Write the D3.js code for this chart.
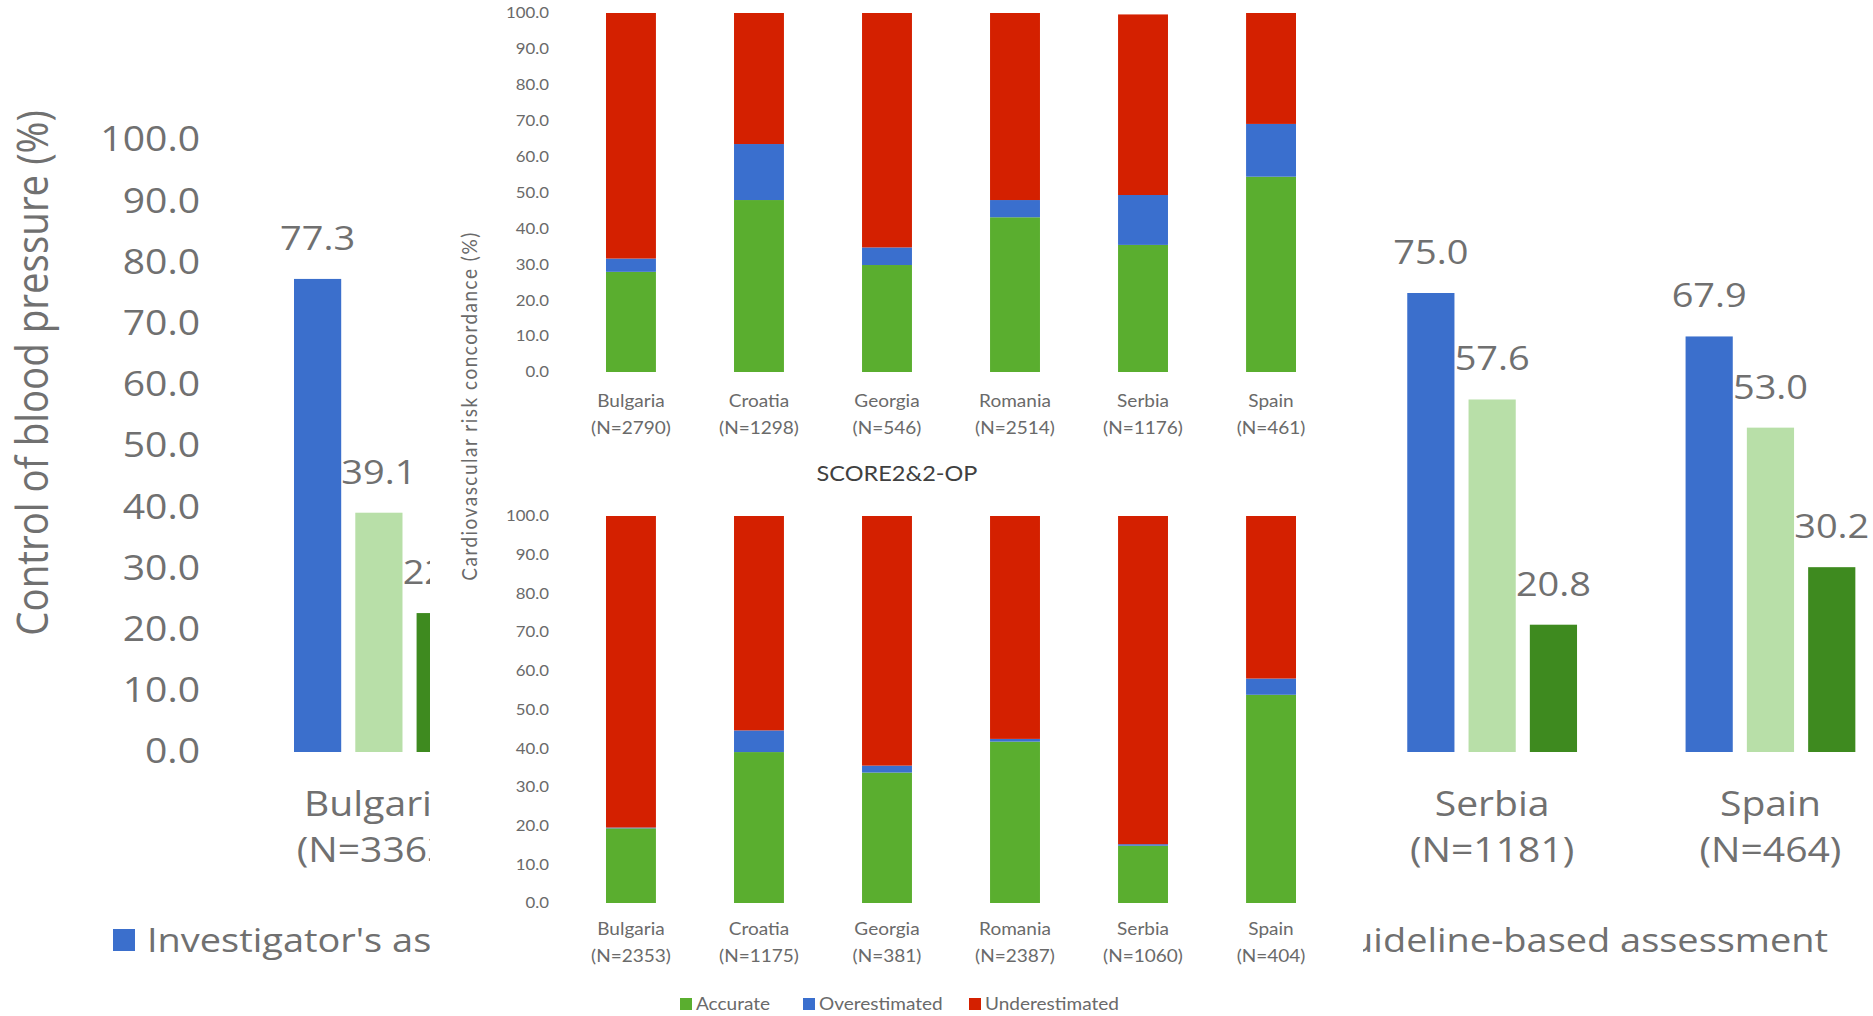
<!DOCTYPE html>
<html>
<head>
<meta charset="utf-8">
<script src="https://cdn.jsdelivr.net/npm/d3@7"></script>
<style>
  body { margin: 0; background: #fff; }
  svg { display: block; }
</style>
</head>
<body>
<div id="chart"></div>
<script>
// ---------- data: background chart (control of blood pressure) ----------
const countries = ["Bulgaria", "Croatia", "Georgia", "Romania", "Serbia", "Spain"];
const bpN = ["(N=3363)", null, null, null, "(N=1181)", "(N=464)"];
const bpSeries = ["investigator", "middle", "guideline"];
const bpSeriesLabels = ["Investigator's assessment", "", "Guideline-based assessment"];
const bpInvestigator = [77.3, null, null, null, 75.0, 67.9];
const bpMiddle = [39.1, null, null, null, 57.6, 53.0];
const bpGuideline = [22.7, null, null, null, 20.8, 30.2];
const bpTicks = [0, 10, 20, 30, 40, 50, 60, 70, 80, 90, 100];

// ---------- data: inset (cardiovascular risk concordance) ----------
const riskKeys = ["accurate", "over", "under"];
const riskLabels = ["Accurate", "Overestimated", "Underestimated"];
const scoreN = ["(N=2790)", "(N=1298)", "(N=546)", "(N=2514)", "(N=1176)", "(N=461)"];
const scoreAccurate = [27.9, 47.9, 29.8, 43.1, 35.4, 54.4];
const scoreOver = [3.7, 15.6, 4.9, 4.8, 13.9, 14.7];
const scoreUnder = [68.4, 36.5, 65.3, 52.1, 50.3, 30.9];
const score2N = ["(N=2353)", "(N=1175)", "(N=381)", "(N=2387)", "(N=1060)", "(N=404)"];
const score2Accurate = [19.3, 39.0, 33.7, 41.7, 14.8, 53.8];
const score2Over = [0.2, 5.6, 1.8, 0.7, 0.4, 4.2];
const score2Under = [80.5, 55.4, 64.5, 57.6, 84.8, 42.0];
const riskTicks = [0, 10, 20, 30, 40, 50, 60, 70, 80, 90, 100];

const width = 1873;
const height = 1016;

const svg = d3.select("#chart")
    .append("svg")
    .attr("width", width)
    .attr("height", height);

const fmt = d3.format(".1f");

// ================= background chart =================
const bgFont = "'Open Sans', sans-serif";
const bgGrey = "#707070";
const bgSx = 1.15;
const bpColors = d3.scaleOrdinal().domain(bpSeries).range(["#3b6fcc", "#b8dfa8", "#3e8a1f"]);

const bpX = d3.scaleBand().domain(countries).range([154.85, 1994.5]).paddingInner(0.39).paddingOuter(0.5);
const bpSub = d3.scaleBand().domain(bpSeries).range([0, bpX.bandwidth()]).paddingInner(0.23);
const bpY = d3.scaleLinear().domain([0, 100]).range([752, 140]);

const bpRows = [];
countries.forEach((c, i) => {
    [bpInvestigator, bpMiddle, bpGuideline].forEach((arr, j) => {
        if (arr[i] != null) bpRows.push({ country: c, series: bpSeries[j], value: arr[i] });
    });
});

const bg = svg.append("g").attr("class", "background");

const bgAxis = bg.append("g")
    .attr("transform", "translate(200,0)")
    .call(d3.axisLeft(bpY).tickValues(bpTicks).tickFormat(fmt).tickSize(0).tickPadding(0));
bgAxis.select(".domain").remove();
bgAxis.selectAll("text")
    .attr("transform", `scale(${bgSx},1)`)
    .style("font-family", bgFont)
    .style("font-size", "34px")
    .style("fill", bgGrey);

bg.append("text")
    .attr("transform", `translate(48,373) scale(${bgSx},1) rotate(-90)`)
    .attr("text-anchor", "middle")
    .style("font-family", bgFont)
    .style("font-size", "38.5px")
    .style("fill", bgGrey)
    .text("Control of blood pressure (%)");

bg.append("g")
    .selectAll("rect")
    .data(bpRows)
    .enter().append("rect")
    .attr("x", d => bpX(d.country) + bpSub(d.series))
    .attr("y", d => bpY(d.value))
    .attr("width", bpSub.bandwidth())
    .attr("height", d => bpY(0) - bpY(d.value))
    .attr("fill", d => bpColors(d.series));

bg.append("g")
    .selectAll("text")
    .data(bpRows)
    .enter().append("text")
    .attr("transform", d => `translate(${bpX(d.country) + bpSub(d.series) + bpSub.bandwidth() / 2},${bpY(d.value) - 29}) scale(${bgSx},1)`)
    .attr("text-anchor", "middle")
    .style("font-family", bgFont)
    .style("font-size", "33px")
    .style("fill", bgGrey)
    .text(d => fmt(d.value));

const bpCats = bg.append("g")
    .selectAll("g")
    .data(countries.map((c, i) => ({ country: c, n: bpN[i] })).filter(d => d.n))
    .enter().append("g")
    .attr("transform", d => `translate(${bpX(d.country) + bpX.bandwidth() / 2},0)`);
bpCats.append("text")
    .attr("transform", `translate(0,816) scale(${bgSx},1)`)
    .attr("text-anchor", "middle")
    .style("font-family", bgFont)
    .style("font-size", "34px")
    .style("fill", bgGrey)
    .text(d => d.country);
bpCats.append("text")
    .attr("transform", `translate(0,862) scale(${bgSx},1)`)
    .attr("text-anchor", "middle")
    .style("font-family", bgFont)
    .style("font-size", "34px")
    .style("fill", bgGrey)
    .text(d => d.n);

// legend: first item at left, last item ends near the right edge (middle one is hidden)
const bgLegend = bg.append("g");
const legFirst = bgLegend.append("g").attr("transform", "translate(113,929)");
legFirst.append("rect").attr("width", 22).attr("height", 22).attr("fill", bpColors(bpSeries[0]));
legFirst.append("text")
    .attr("transform", `translate(34,23) scale(${bgSx},1)`)
    .style("font-family", bgFont)
    .style("font-size", "33px")
    .style("fill", bgGrey)
    .text(bpSeriesLabels[0]);
const legLast = bgLegend.append("g");
legLast.append("rect").attr("width", 22).attr("height", 22).attr("fill", bpColors(bpSeries[2]));
const lastText = legLast.append("text")
    .attr("transform", `translate(34,23) scale(${bgSx},1)`)
    .style("font-family", bgFont)
    .style("font-size", "33px")
    .style("fill", bgGrey)
    .text(bpSeriesLabels[2]);
const lastW = lastText.node().getComputedTextLength() * bgSx;
legLast.attr("transform", `translate(${1828 - lastW - 34},929)`);

// ================= inset (white panel on top) =================
const inFont = "Lato, 'Open Sans', sans-serif";
const inGrey = "#6a6a6a";
const inSx = 1.12;
const riskColors = d3.scaleOrdinal().domain(riskKeys).range(["#5aae2f", "#3a6fce", "#d42000"]);

const inset = svg.append("g").attr("class", "inset");
inset.append("rect")
    .attr("x", 430)
    .attr("y", 0)
    .attr("width", 933)
    .attr("height", height)
    .attr("fill", "#fff");

const riskX = d3.scaleBand().domain(countries).range([542, 1360]).paddingInner(0.61).paddingOuter(0.5);

function stackedPanel(accurate, over, under, nLabels, y0, y1, labelY) {
    const y = d3.scaleLinear().domain([0, 100]).range([y0, y1]);
    const rows = countries.map((c, i) => ({ country: c, accurate: accurate[i], over: over[i], under: under[i] }));
    const stacked = d3.stack().keys(riskKeys)(rows);

    const axis = inset.append("g")
        .attr("transform", "translate(549,0)")
        .call(d3.axisLeft(y).tickValues(riskTicks).tickFormat(fmt).tickSize(0).tickPadding(0));
    axis.select(".domain").remove();
    axis.selectAll("text")
        .attr("transform", `scale(${inSx},1)`)
        .style("font-family", inFont)
        .style("font-size", "15px")
        .style("fill", inGrey);

    inset.append("g")
        .selectAll("g")
        .data(stacked)
        .enter().append("g")
        .attr("fill", d => riskColors(d.key))
        .selectAll("rect")
        .data(d => d)
        .enter().append("rect")
        .attr("x", d => riskX(d.data.country))
        .attr("y", d => y(d[1]))
        .attr("width", riskX.bandwidth())
        .attr("height", d => y(d[0]) - y(d[1]));

    const cats = inset.append("g")
        .selectAll("g")
        .data(rows.map((r, i) => ({ country: r.country, n: nLabels[i] })))
        .enter().append("g")
        .attr("transform", d => `translate(${riskX(d.country) + riskX.bandwidth() / 2},0)`);
    cats.append("text")
        .attr("transform", `translate(0,${labelY}) scale(${inSx},1)`)
        .attr("text-anchor", "middle")
        .style("font-family", inFont)
        .style("font-size", "17px")
        .style("fill", inGrey)
        .text(d => d.country);
    cats.append("text")
        .attr("transform", `translate(0,${labelY + 27}) scale(${inSx},1)`)
        .attr("text-anchor", "middle")
        .style("font-family", inFont)
        .style("font-size", "17px")
        .style("fill", inGrey)
        .text(d => d.n);
}

stackedPanel(scoreAccurate, scoreOver, scoreUnder, scoreN, 372, 13, 407);
stackedPanel(score2Accurate, score2Over, score2Under, score2N, 903, 516, 935);

inset.append("text")
    .attr("transform", `translate(897,481) scale(${inSx},1)`)
    .attr("text-anchor", "middle")
    .style("font-family", inFont)
    .style("font-size", "21px")
    .style("fill", "#404040")
    .text("SCORE2&2-OP");

inset.append("text")
    .attr("transform", `translate(477,406) scale(${inSx},1) rotate(-90)`)
    .attr("text-anchor", "middle")
    .style("font-family", inFont)
    .style("font-size", "19px")
    .style("letter-spacing", "1.5px")
    .style("fill", inGrey)
    .text("Cardiovascular risk concordance (%)");

// inset legend
const legX = [680, 803, 969];
const inLegend = inset.append("g")
    .selectAll("g")
    .data(riskKeys)
    .enter().append("g")
    .attr("transform", (d, i) => `translate(${legX[i]},998)`);
inLegend.append("rect")
    .attr("width", 12)
    .attr("height", 12)
    .attr("fill", d => riskColors(d));
inLegend.append("text")
    .attr("transform", `translate(16,12) scale(${inSx},1)`)
    .style("font-family", inFont)
    .style("font-size", "17px")
    .style("fill", inGrey)
    .text((d, i) => riskLabels[i]);
</script>
</body>
</html>
